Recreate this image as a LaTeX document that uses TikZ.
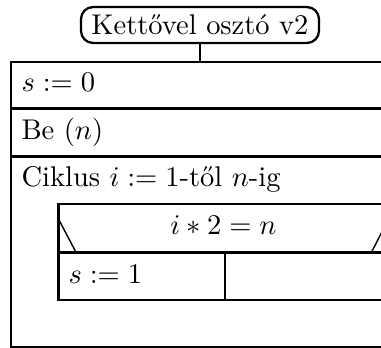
\documentclass[tikz,border=0pt]{standalone}
\usepackage{fontspec}
\begin{document}
\begin{tikzpicture}[x=0.3509pt,y=-0.3509pt,
  frame/.style={line width=1pt},
  diag/.style={line width=0.5pt},
  txt/.style={anchor=base west,inner sep=0pt},
  ctxt/.style={anchor=base,inner sep=0pt},
  titlebox/.style={draw,line width=0.8pt,rounded corners=4.2pt,minimum width=83.5pt,minimum height=12.6pt,inner sep=0pt}]
\useasboundingbox (0,0) rectangle (381,348);
\clip (0,0) rectangle (381,348);
% title
\node[titlebox] (title) at (200,25) {Kettővel osztó v2};
% outer frame
\coordinate (otl) at (11,62);
\coordinate (obr) at (430,347);
\draw[frame] (otl) rectangle (obr);
\draw[frame] (title.south) -- (title.south |- otl);
\draw[frame] (11,108.5) -- (430,108.5);
\draw[frame] (11,156.5) -- (430,156.5);
% inner if block
\coordinate (itl) at (58.5,204);
\coordinate (ibr) at (388.5,300);
\draw[frame] (itl) rectangle (ibr);
\draw[frame] (58.5,252.3) -- (388.5,252.3);
\draw[frame] (225,252.3) -- (225,300);
\draw[diag] (59,220) -- (76,252.3);
\draw[diag] (388,220) -- (371.5,252.3);
% texts
\node[txt] (t1) at (21,91.5) {$s := 0$};
\node[txt] (t2) at (21,139.5) {Be $(n)$};
\node[txt] (t3) at (21,186.5) {Ciklus $i := 1$-től $n$-ig};
\node[ctxt] (cond) at (223.5,235) {$i*2=n$};
\node[txt] (t4) at (68,284) {$s := 1$};
\end{tikzpicture}
\end{document}
